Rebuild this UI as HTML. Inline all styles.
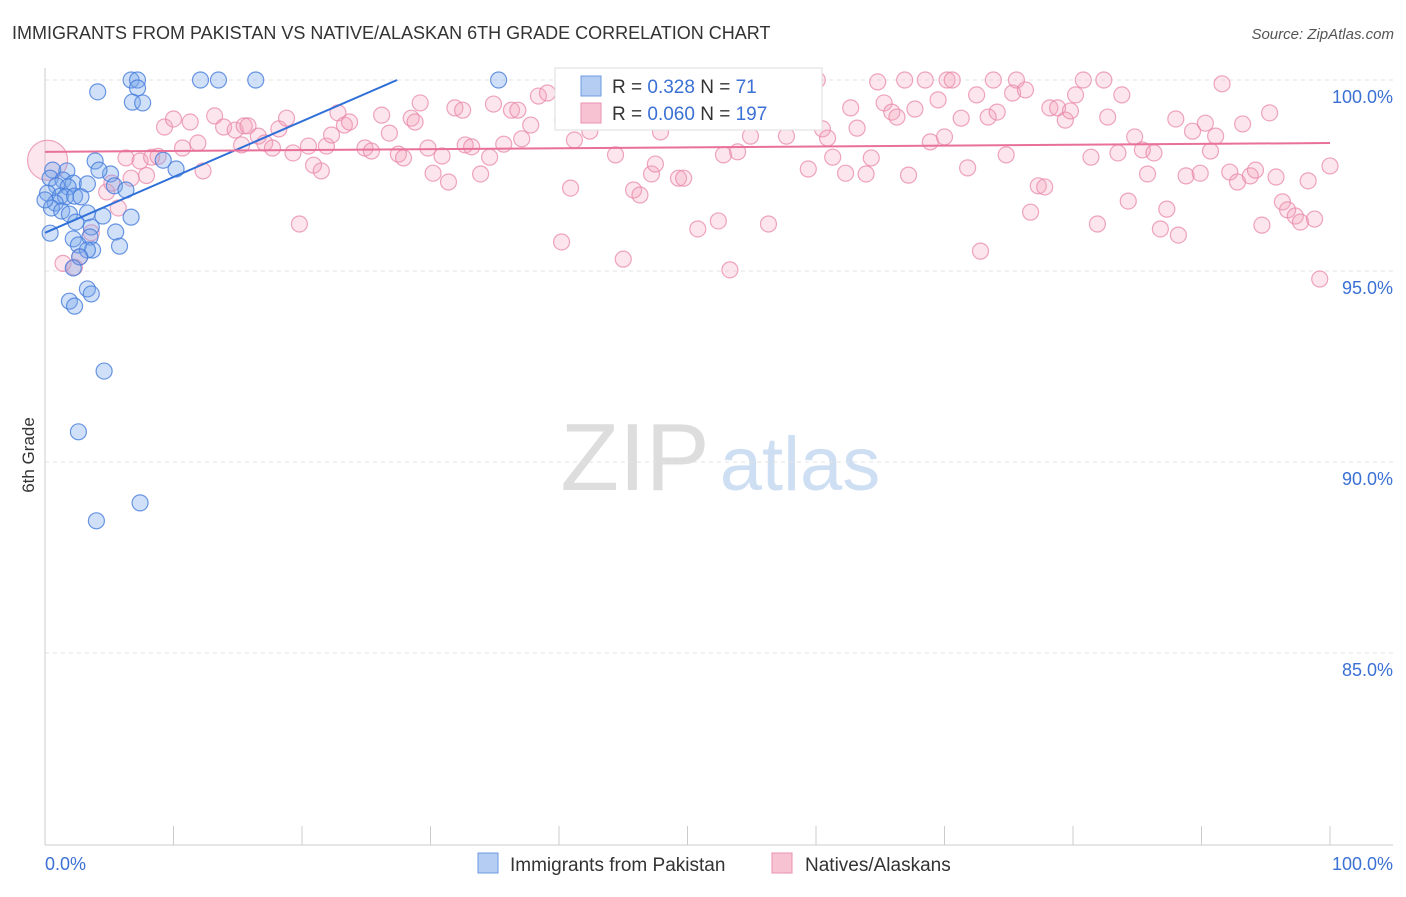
<!DOCTYPE html>
<html><head><meta charset="utf-8"><style>
body{margin:0;background:#fff;font-family:"Liberation Sans",sans-serif;}
svg text{font-family:"Liberation Sans",sans-serif;}
</style></head><body>
<svg id="chart" width="1406" height="892" xmlns="http://www.w3.org/2000/svg">
<text x="12" y="39" font-size="18" fill="#333">IMMIGRANTS FROM PAKISTAN VS NATIVE/ALASKAN 6TH GRADE CORRELATION CHART</text>
<text x="1394" y="39" font-size="15" fill="#555" text-anchor="end" font-style="italic">Source: ZipAtlas.com</text>
<text x="34" y="455" font-size="17" fill="#333" text-anchor="middle" transform="rotate(-90 34 455)">6th Grade</text>
<g>
<text x="635" y="490" font-size="96" fill="#ddd" text-anchor="middle" font-family="Liberation Serif">ZIP</text>
<text x="800" y="490" font-size="76" fill="#cfdff3" text-anchor="middle">atlas</text>
</g>
<g id="grid"></g><g id="axes"></g><g id="pts"></g><g id="lines"></g>
<g>
<rect x="555" y="68" width="267" height="62" fill="#fff" stroke="#ddd"/>
<rect x="581" y="76" width="20" height="20" fill="#b5cdf3" stroke="#6d9be3"/>
<text x="612" y="93" font-size="19" fill="#333">R = <tspan fill="#3b70d4">0.328</tspan>   N = <tspan fill="#3b70d4">71</tspan></text>
<rect x="581" y="103" width="20" height="20" fill="#f7c3d3" stroke="#e890b0"/>
<text x="612" y="120" font-size="19" fill="#333">R = <tspan fill="#3b70d4">0.060</tspan>   N = <tspan fill="#3b70d4">197</tspan></text>
</g>
<g>
<rect x="478" y="853" width="20" height="20" fill="#b5cdf3" stroke="#6d9be3"/>
<text x="510" y="871" font-size="19" fill="#333">Immigrants from Pakistan</text>
<rect x="772" y="853" width="20" height="20" fill="#f7c3d3" stroke="#e890b0"/>
<text x="805" y="871" font-size="19" fill="#333">Natives/Alaskans</text>
</g>
</svg>
<script>
const yTicks=[100,95,90,85];
const yTickLabels=["100.0%","95.0%","90.0%","85.0%"];
const xTickLabels=["0.0%","100.0%"];
const blueX=[6.7,7.2,12.1,13.5,16.4,35.3,4.1,7.2,6.8,7.6,3.9,9.2,10.2,0.6,1.7,5.1,4.2,0.4,1.4,2.2,3.3,0.9,1.8,5.4,6.3,0.2,1.2,1.6,2.3,2.8,0.8,0.5,1.3,1.9,3.3,4.5,6.7,2.4,3.6,0.4,5.5,2.2,3.5,2.6,5.8,3.7,3.3,2.7,2.2,3.3,3.6,1.9,2.3,4.6,2.6,7.4,4.0,0.0];
const blueY=[100,100,100,100,100,100,99.69,99.79,99.42,99.4,97.88,97.9,97.67,97.64,97.62,97.54,97.64,97.43,97.38,97.3,97.28,97.23,97.2,97.23,97.12,97.04,96.96,96.94,96.96,96.94,96.78,96.65,96.57,96.49,96.52,96.44,96.41,96.28,96.15,95.99,96.02,95.84,95.89,95.68,95.65,95.55,95.55,95.37,95.08,94.53,94.4,94.21,94.08,92.38,90.79,88.93,88.46,96.86];
const pinkX=[0.2,1.4,2.3,2.7,3.6,5.7,4.8,5.2,6.7,7.9,6.3,7.4,8.3,8.8,9.3,10.0,11.3,10.7,11.9,12.3,13.2,13.9,14.8,15.5,15.8,15.3,16.6,17.1,17.7,18.2,18.8,19.3,19.8,20.5,20.9,21.5,21.9,22.3,22.8,23.3,23.7,24.9,25.4,26.2,26.8,27.5,27.9,28.5,28.8,29.2,29.8,30.2,30.9,31.4,31.9,32.5,32.7,33.2,33.9,34.6,34.9,35.7,36.3,36.8,37.1,37.8,38.4,39.1,40.2,40.3,40.9,41.2,42.4,42.9,43.9,44.4,45.0,45.8,46.3,46.7,47.2,47.5,47.9,48.8,49.3,49.7,50.8,51.7,52.4,52.8,53.3,53.9,54.9,55.5,56.3,57.7,59.4,60.1,60.5,60.9,61.3,62.3,62.7,63.2,63.9,64.3,64.8,65.3,65.9,66.3,66.9,67.2,67.7,68.5,68.9,69.5,70.0,70.2,70.6,71.3,71.8,72.5,72.8,73.4,73.8,74.1,74.8,75.3,75.6,76.3,76.7,77.3,77.8,78.2,78.8,79.4,79.8,80.2,80.8,81.4,81.9,82.4,82.7,83.5,83.8,84.3,84.8,85.4,85.8,86.3,86.8,87.3,88.0,88.2,88.8,89.3,89.9,90.3,90.7,91.1,91.6,92.2,92.8,93.2,93.8,94.2,94.7,95.3,95.8,96.3,96.7,97.3,97.7,98.3,98.8,99.2,100.0];
const pinkY=[97.9,95.2,95.1,95.37,96.0,96.65,97.07,97.3,97.43,97.5,97.96,97.88,97.98,98.0,98.77,98.98,98.9,98.22,98.35,97.62,99.06,98.77,98.69,98.8,98.8,98.3,98.53,98.35,98.22,98.72,99.0,98.09,96.23,98.27,97.77,97.62,98.27,98.56,99.14,98.82,98.9,98.22,98.14,99.08,98.61,98.06,97.96,99.0,98.9,99.4,98.22,97.56,98.01,97.33,99.27,99.21,98.3,98.25,97.54,97.98,99.37,98.32,99.21,99.21,98.46,98.82,99.58,99.66,95.76,98.95,97.17,98.43,98.66,99.27,99.58,98.04,95.31,97.12,96.99,99.21,97.54,97.8,98.64,98.93,97.43,97.43,96.1,99.27,96.31,98.04,95.03,98.12,98.53,99.24,96.23,98.53,97.67,100.0,98.72,98.48,97.98,97.56,99.27,98.74,97.54,97.96,99.95,99.4,99.16,99.03,100.0,97.51,99.24,100.0,98.38,99.48,98.51,100.0,100.0,99.0,97.7,99.61,95.52,99.03,100.0,99.16,98.04,99.66,100.0,99.74,96.54,97.23,97.2,99.27,99.27,98.95,99.19,99.61,100.0,97.98,96.23,100.0,99.03,98.09,99.61,96.83,98.51,98.17,97.54,98.09,96.1,96.62,98.98,95.94,97.49,98.66,97.56,98.87,98.14,98.53,99.9,97.59,97.33,98.85,97.49,97.64,96.2,99.14,97.46,96.81,96.6,96.44,96.28,97.36,96.36,94.79,97.75];
const blueTrend=[96.0,100.0,27.4];   // y at x=0, y at x=end, end x
const pinkTrend=[98.12,98.35];
const NS="http://www.w3.org/2000/svg";
function X(v){return 45+v*12.85;}
function Y(v){return 80+(100-v)*38.2;}
function mk(tag,attrs,parent){const e=document.createElementNS(NS,tag);for(const k in attrs)e.setAttribute(k,attrs[k]);parent.appendChild(e);return e;}
const grid=document.getElementById('grid'),axes=document.getElementById('axes'),pts=document.getElementById('pts'),lines=document.getElementById('lines');
yTicks.forEach((t,i)=>{
  const l=mk('line',{x1:45,x2:1393,y1:Y(t),y2:Y(t),stroke:'#e3e3e3','stroke-dasharray':'4,4'},grid);
  
  
  const tx=mk('text',{x:1393,y:Y(t)+23,'font-size':18,fill:'#3b70d4','text-anchor':'end'},axes);
  tx.textContent=yTickLabels[i];
  
  
});
const ax=mk('line',{x1:45,x2:1393,y1:845,y2:845,stroke:'#ccc'},axes);


const ay=mk('line',{x1:45,x2:45,y1:68,y2:845,stroke:'#ccc'},axes);


for(let i=0;i<=10;i++){
  const t=mk('line',{x1:X(i*10),x2:X(i*10),y1:826,y2:845,stroke:'#ccc'},axes);
  
  
}
const xl0=mk('text',{x:45,y:870,'font-size':18,fill:'#3b70d4'},axes);xl0.textContent=xTickLabels[0];


const xl1=mk('text',{x:1393,y:870,'font-size':18,fill:'#3b70d4','text-anchor':'end'},axes);xl1.textContent=xTickLabels[1];


pinkX.forEach((x,i)=>{
  const c=mk('circle',{cx:X(x),cy:Y(pinkY[i]),r:i===0?20:8,fill:'rgba(244,160,188,0.28)',stroke:'rgba(232,135,170,0.75)','stroke-width':1.2},pts);
  
  
});
blueX.forEach((x,i)=>{
  const c=mk('circle',{cx:X(x),cy:Y(blueY[i]),r:8,fill:'rgba(120,165,235,0.35)',stroke:'rgba(70,125,220,0.8)','stroke-width':1.2},pts);
  
  
});
const bl=mk('line',{x1:X(0),y1:Y(blueTrend[0]),x2:X(blueTrend[2]),y2:Y(blueTrend[1]),stroke:'#2f6fd8','stroke-width':2},lines);


const pl=mk('line',{x1:X(0),y1:Y(pinkTrend[0]),x2:X(100),y2:Y(pinkTrend[1]),stroke:'#e8709a','stroke-width':2},lines);


</script>
</body></html>
